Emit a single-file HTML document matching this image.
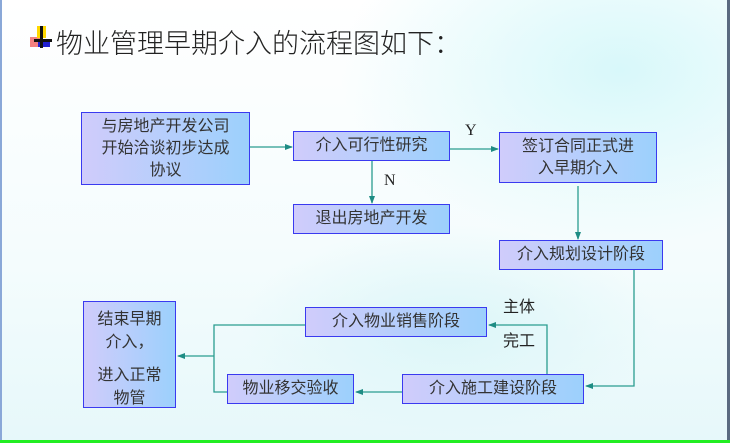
<!DOCTYPE html>
<html><head><meta charset="utf-8"><style>
body{margin:0}
#c{position:relative;width:730px;height:443px;overflow:hidden;
background:radial-gradient(ellipse 400px 250px at 620px 70px,#d8f8fa,rgba(255,255,255,0) 70%),
radial-gradient(ellipse 300px 150px at 450px 330px,#dcf6f8,rgba(255,255,255,0) 70%),
linear-gradient(180deg,#fff 0%,#f4fcfd 60%,#e6f8fa 100%);
font-family:"Liberation Sans","Noto Sans CJK SC",sans-serif;}
.b{position:absolute;box-sizing:border-box;border:1.5px solid #3a3af0;
background:linear-gradient(90deg,#d0ccfb,#9cd0fc);color:#333;font-size:16px;
display:flex;align-items:center;justify-content:center;text-align:center;line-height:22px}
.t{position:absolute;font-size:16px;color:#222}
</style></head><body><div id="c">
<div style="position:absolute;left:0;top:0;width:2px;height:443px;background:#8aa8d8"></div>
<div style="position:absolute;left:727px;top:0;width:3px;height:443px;background:#5a6a80"></div>
<div style="position:absolute;left:0;top:440px;width:730px;height:3px;background:#22ee22"></div>
<div style="position:absolute;left:30px;top:37px;width:12px;height:10px;background:#f06060;opacity:.8"></div>
<div style="position:absolute;left:37px;top:26px;width:9px;height:12px;background:#ffd800"></div>
<div style="position:absolute;left:38px;top:39px;width:12px;height:8px;background:#2020d0"></div>
<div style="position:absolute;left:40px;top:26px;width:3px;height:22px;background:#111"></div>
<div style="position:absolute;left:34px;top:39px;width:18px;height:3px;background:#111"></div>
<div style="position:absolute;left:56px;top:22px;font-size:27px;color:#222;font-weight:300">物业管理早期介入的流程图如下：</div>
<svg style="position:absolute;left:0;top:0" width="730" height="443">
<defs><marker id="a" markerWidth="8" markerHeight="8" refX="7" refY="4" orient="auto" markerUnits="userSpaceOnUse"><path d="M0,1L8,4L0,7Z" fill="#1e8c84"/></marker></defs>
<g stroke="#2a9d90" stroke-width="1.3" fill="none" marker-end="url(#a)">
<path d="M250,147H292"/>
<path d="M372,161V203"/>
<path d="M450,149H498"/>
<path d="M578,186V239"/>
<path d="M634,268V386H586"/>
<path d="M547,374V325H489"/>
<path d="M402,392H356"/>
<path d="M214,356H178"/>
</g>
<path d="M305,325H214V392H227" stroke="#2a9d90" stroke-width="1.3" fill="none"/>
</svg>
<div class="b" style="left:81px;top:112px;width:169px;height:73px">与房地产开发公司<br>开始洽谈初步达成<br>协议</div>
<div class="b" style="left:293px;top:131px;width:157px;height:30px">介入可行性研究</div>
<div class="b" style="left:293px;top:204px;width:157px;height:30px">退出房地产开发</div>
<div class="b" style="left:499px;top:132px;width:158px;height:51px">签订合同正式进<br>入早期介入</div>
<div class="b" style="left:499px;top:240px;width:164px;height:30px">介入规划设计阶段</div>
<div class="b" style="left:305px;top:307px;width:182px;height:30px">介入物业销售阶段</div>
<div class="b" style="left:402px;top:374px;width:182px;height:30px">介入施工建设阶段</div>
<div class="b" style="left:227px;top:374px;width:127px;height:30px">物业移交验收</div>
<div class="b" style="left:83px;top:301px;width:93px;height:107px;display:block;padding-top:6px;line-height:23px">结束早期<br>介入，<div style="height:10px"></div>进入正常<br>物管</div>
<div class="t" style="left:465px;top:122px;font-family:'Liberation Serif',serif">Y</div>
<div class="t" style="left:384px;top:172px;font-family:'Liberation Serif',serif">N</div>
<div class="t" style="left:503px;top:293px">主体</div>
<div class="t" style="left:503px;top:327px">完工</div>
</div></body></html>
